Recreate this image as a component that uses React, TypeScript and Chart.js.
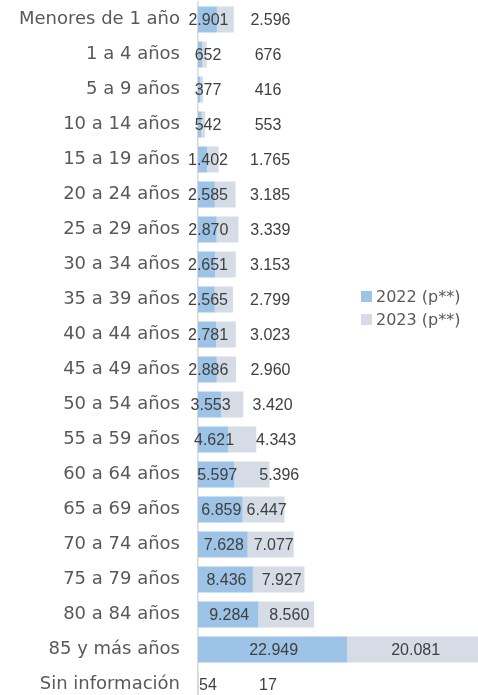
import React, { useEffect, useRef } from "react";
import { Chart, registerables } from "chart.js";

Chart.register(...registerables);

const categories = [
  "Menores de 1 año", "1 a 4 años", "5 a 9 años", "10 a 14 años", "15 a 19 años",
  "20 a 24 años", "25 a 29 años", "30 a 34 años", "35 a 39 años", "40 a 44 años",
  "45 a 49 años", "50 a 54 años", "55 a 59 años", "60 a 64 años", "65 a 69 años",
  "70 a 74 años", "75 a 79 años", "80 a 84 años", "85 y más años", "Sin información",
];
const values2022 = [2901, 652, 377, 542, 1402, 2585, 2870, 2651, 2565, 2781, 2886, 3553, 4621, 5597, 6859, 7628, 8436, 9284, 22949, 54];
const values2023 = [2596, 676, 416, 553, 1765, 3185, 3339, 3153, 2799, 3023, 2960, 3420, 4343, 5396, 6447, 7077, 7927, 8560, 20081, 17];
const seriesNames = ["2022 (p**)", "2023 (p**)"];
const colors = ["#9DC3E6", "#D6DCE5"];

const fmt = (v: number) => String(v).replace(/\B(?=(\d{3})+(?!\d))/g, ".");

const labelPlugin = {
  id: "valueLabels",
  afterDatasetsDraw(chart: any) {
    const ctx = chart.ctx;
    const m0 = chart.getDatasetMeta(0);
    const m1 = chart.getDatasetMeta(1);
    const axisX = chart.chartArea.left;
    ctx.save();
    ctx.font = '16px "Liberation Sans"';
    ctx.fillStyle = "#404040";
    ctx.textAlign = "center";
    ctx.textBaseline = "middle";
    for (let i = 0; i < categories.length; i++) {
      const b = m0.data[i];
      const g = m1.data[i];
      const t1 = fmt(values2022[i]);
      const t2 = fmt(values2023[i]);
      const w1 = ctx.measureText(t1).width;
      const w2 = ctx.measureText(t2).width;
      const c1 = Math.max((b.base + b.x) / 2 + 1, axisX + 10);
      const blueRight = c1 + w1 / 2;
      let c2 = (g.base + g.x) / 2 + 3;
      if (c2 - w2 / 2 < blueRight + 4) c2 = Math.max(blueRight + 22 + w2 / 2, axisX + 70);
      ctx.fillText(t1, c1, b.y + 1);
      ctx.fillText(t2, c2, g.y + 1);
    }
    ctx.restore();
  },
};

const legendPlugin = {
  id: "overlayLegend",
  afterDraw(chart: any) {
    const ctx = chart.ctx;
    const x = chart.width - 117;
    const y0 = chart.height * 0.4224;
    ctx.save();
    ctx.font = '16px "DejaVu Sans"';
    ctx.textBaseline = "middle";
    ctx.textAlign = "left";
    seriesNames.forEach((name, i) => {
      const y = y0 + i * 23;
      ctx.fillStyle = colors[i];
      ctx.fillRect(x, y - 5.5, 11, 11);
      ctx.fillStyle = "#595959";
      ctx.fillText(name, x + 15, y + 1);
    });
    ctx.restore();
  },
};

export default function App() {
  const ref = useRef<HTMLCanvasElement | null>(null);
  useEffect(() => {
    document.body.style.margin = "0";
    document.body.style.overflow = "hidden";
    const totals = values2022.map((v, i) => v + values2023[i]);
    const chart = new Chart(ref.current as HTMLCanvasElement, {
      type: "bar",
      data: {
        labels: categories,
        datasets: [
          { label: seriesNames[0], data: values2022, backgroundColor: colors[0], borderWidth: 0 },
          { label: seriesNames[1], data: values2023, backgroundColor: colors[1], borderWidth: 0 },
        ],
      },
      options: {
        indexAxis: "y",
        responsive: false,
        animation: false,
        layout: { padding: { top: 2, left: 0, right: 0, bottom: 0 } },
        datasets: { bar: { categoryPercentage: 0.743, barPercentage: 1 } },
        plugins: { legend: { display: false }, tooltip: { enabled: false } },
        scales: {
          x: { stacked: true, display: false, min: 0, max: Math.max(...totals) },
          y: {
            stacked: true,
            grid: { display: false, drawTicks: false },
            border: { display: true, color: "#D9D9D9", width: 1.5 },
            ticks: { color: "#595959", font: { family: '"DejaVu Sans"', size: 18 }, padding: 18 },
            afterFit: (scale: any) => {
              scale.width = 198;
              scale.paddingTop = 0;
              scale.paddingBottom = 0;
            },
          },
        },
      } as any,
      plugins: [labelPlugin, legendPlugin],
    });
    return () => chart.destroy();
  }, []);
  return (
    <div style={{ width: 478, height: 695, overflow: "hidden" }}>
      <canvas ref={ref} width={478} height={702} style={{ display: "block" }} />
    </div>
  );
}
